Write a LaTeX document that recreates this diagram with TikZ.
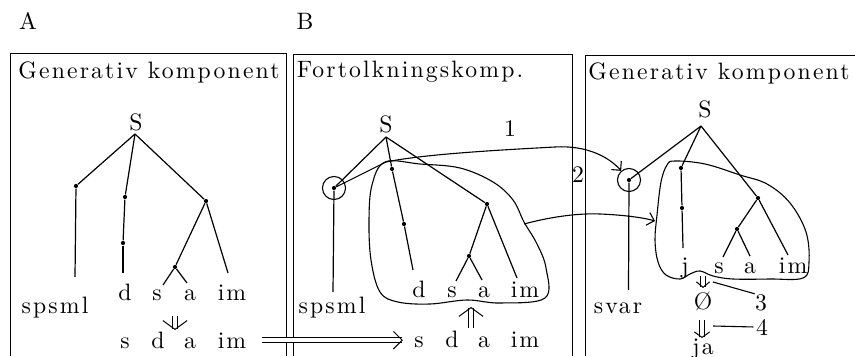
\documentclass[tikz,border=0pt]{standalone}
\usepackage{fontspec}
\usepackage{tikz}
\usetikzlibrary{arrows.meta}
\newfontfamily{\spaced}{lmroman10-regular.otf}[LetterSpace=9, Scale=1.08]

\begin{document}
\begin{tikzpicture}[x=0.016cm, y=-0.016cm, font=\spaced,
    panel/.style={line width=0.45pt},
    branch/.style={line width=0.55pt},
    dot/.style={circle, fill, inner sep=0pt, minimum size=1.9pt},
    ring/.style={circle, draw, line width=0.5pt, inner sep=0pt, minimum size=10.5pt},
    word/.style={anchor=base, inner sep=1pt},
    tag/.style={word, inner sep=0pt},
    blob/.style={line width=0.5pt},
    derive/.style={double, double distance=1.8pt, line width=0.45pt, -{Straight Barb[length=4pt, width=11pt]}},
    link/.style={line width=0.5pt, -{Straight Barb[length=3pt, width=6pt]}},
]
    \useasboundingbox (0,0) rectangle (855,356);

    % the three panels
    \draw[panel] (10,356) -- (10,53) -- (286,53) -- (286,356);
    \draw[panel] (293,356) -- (293,54) -- (572,54) -- (572,356);
    \draw[panel] (585,356) -- (585,55) -- (856,55);
    \node[word] (lA) at (28,30) {A};
    \node[word] (lB) at (305,30) {B};
    \node[word] (tA) at (149,79) {Generativ komponent};
    \node[word] (tB) at (410,78) {Fortolkningskomp.};
    \node[word] (tC) at (719,80) {Generativ komponent};

    % A: generative tree
    \node[word] (sA) at (136,131) {S};
    \coordinate (rA) at (135,134);
    \node[dot] (a1) at (76,186) {};
    \node[dot] (a2) at (125,197) {};
    \node[dot] (a3) at (123,243) {};
    \node[dot] (a4) at (206,201) {};
    \node[dot] (a5) at (175,267) {};
    \coordinate (a1e) at (75,277);
    \coordinate (a3e) at (123,273);
    \coordinate (a4e) at (228,273);
    \coordinate (a5s) at (163,285);
    \coordinate (a5a) at (187,283);
    \foreach \u/\v in {rA/a1, a1/a1e, rA/a2, a2/a3, a3/a3e, rA/a4, a4/a4e, a4/a5, a5/a5s, a5/a5a}
        \draw[branch] (\u) -- (\v);
    \node[word] (aSp) at (55,313) {spsml};
    \foreach \t/\x in {d/125, s/157, a/190, im/232}
        \node[word] (aU\t) at (\x,300) {\t};
    \foreach \t/\x in {s/125, d/158, a/190, im/232}
        \node[word] (aL\t) at (\x,348) {\t};
    \coordinate (aDa) at (175,316);
    \coordinate (aDb) at (175,330);
    \draw[derive] (aDa) -- (aDb);

    % B: interpretive tree
    \node[word] (sB) at (386,133) {S};
    \coordinate (rB) at (386,137);
    \node[dot] (b1) at (334,188) {};
    \node[ring] (b1r) at (334,188) {};
    \node[dot] (b2) at (392,169) {};
    \node[dot] (b3) at (404,224) {};
    \node[dot] (b4) at (487,204) {};
    \node[dot] (b5) at (469,256) {};
    \coordinate (b1e) at (333,292);
    \coordinate (b3e) at (413,270);
    \coordinate (b4e) at (517,278);
    \coordinate (b5s) at (456,281);
    \coordinate (b5a) at (482,280);
    \foreach \u/\v in {rB/b1, b1/b1e, rB/b2, b2/b3, b3/b3e, rB/b4, b4/b4e, b4/b5, b5/b5s, b5/b5a}
        \draw[branch] (\u) -- (\v);
    \node[word] (bSp) at (332,313) {spsml};
    \foreach \t/\x in {d/419, s/452, a/484, im/525}
        \node[word] (bU\t) at (\x,297) {\t};
    \foreach \t/\x in {s/419, d/452, a/484, im/525}
        \node[word] (bL\t) at (\x,347) {\t};
    \coordinate (bUpa) at (471,328);
    \coordinate (bUpb) at (471,307);
    \draw[derive] (bUpa) -- (bUpb);
    \draw[blob] plot[smooth cycle, tension=0.6] coordinates {(385,162) (420,164) (460,168) (493,182)
        (513,200) (524,222) (537,244) (546,268) (545,298) (500,303) (467,300) (430,304) (398,302)
        (380,292) (371,260) (369,220) (372,185)};
    \coordinate (bOut) at (524,224);
    \coordinate (bKnee) at (386,162);

    % C: generative tree again
    \node[word] (sC) at (705,118) {S};
    \coordinate (rC) at (701,126);
    \node[dot] (c1) at (629,180) {};
    \node[ring] (c1r) at (629,180) {};
    \node[dot] (c2) at (681,168) {};
    \node[dot] (c3) at (682,208) {};
    \node[dot] (c4) at (758,198) {};
    \node[dot] (c5) at (737,229) {};
    \coordinate (c1e) at (628.5,290);
    \coordinate (c3e) at (683,248);
    \coordinate (c4e) at (788,255);
    \coordinate (c5s) at (723,257);
    \coordinate (c5a) at (750,256);
    \foreach \u/\v in {rC/c1, c1/c1e, rC/c2, c2/c3, c3/c3e, rC/c4, c4/c4e, c4/c5, c5/c5s, c5/c5a}
        \draw[branch] (\u) -- (\v);
    \node[word] (cSv) at (618,313) {svar};
    \foreach \t/\x in {j/685, s/719, a/750, im/793}
        \node[word] (cU\t) at (\x,273) {\t};
    \draw[blob] plot[smooth cycle, tension=0.6] coordinates {(675,161) (705,164) (740,175) (767,184)
        (790,203) (806,232) (809,262) (803,278) (770,279) (733,279) (713,276) (700,271) (690,274)
        (680,279) (666,275) (658,262) (655,240) (657,215) (661,182) (667,165)};
    \coordinate (cIn) at (655,221);
    \node[word] (cNil) at (703,309) {Ø};
    \node[word] (cJa) at (703,354) {ja};
    \coordinate (cDa) at (703,276);
    \coordinate (cDb) at (703,288);
    \coordinate (cDc) at (702,320);
    \coordinate (cDd) at (702,338);
    \draw[derive, -{Straight Barb[length=2.5pt, width=6pt]}] (cDa) -- (cDb);
    \draw[derive, -{Straight Barb[length=2.5pt, width=7pt]}] (cDc) -- (cDd);
    \node[tag] (n3) at (761,310) {3};
    \node[tag] (n4) at (762,335) {4};
    \coordinate (cT3) at (713,282);
    \coordinate (cT4) at (713,326);
    \draw[blob] (cT3) -- (n3.north west);
    \draw[blob] (cT4) -- ([xshift=-1pt]n4.west);

    % transfers between panels
    \draw[derive, -{Straight Barb[length=4pt, width=8pt]}, shorten <=6pt, shorten >=4pt]
        (aLim.east) -- (bLs.west |- aLim.east);
    \draw[link] (b1) -- (bKnee) .. controls (425,154) and (500,150) .. (555,147)
        .. controls (588,145) and (610,158) .. (c1r);
    \draw[link] (bOut) .. controls (550,217) and (578,213) .. (600,214)
        .. controls (625,215) and (645,218) .. (cIn);
    \node[word] (n1) at (510,137) {1};
    \node[word] (n2) at (578,182) {2};
\end{tikzpicture}
\end{document}
